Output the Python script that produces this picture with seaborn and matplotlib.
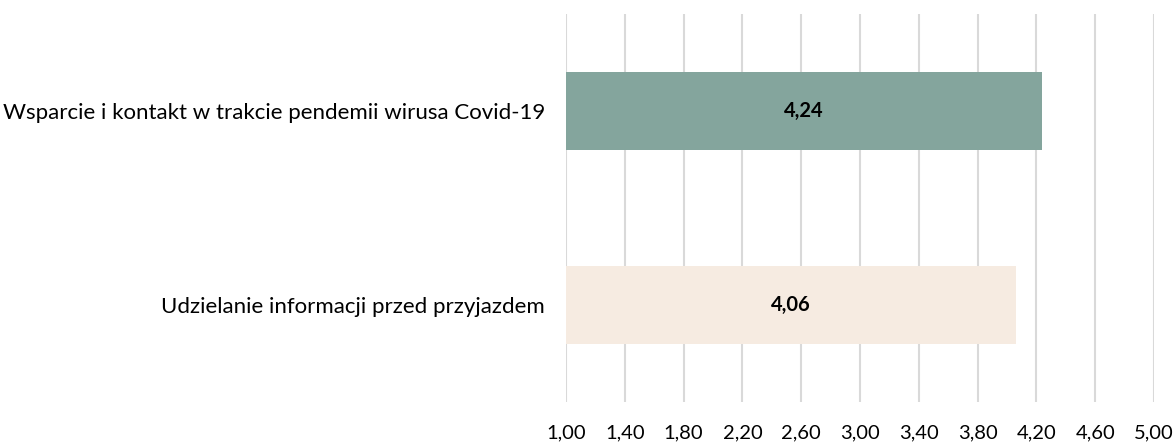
import matplotlib
matplotlib.use("Agg")
import matplotlib.pyplot as plt
import seaborn as sns
import pandas as pd
from matplotlib.ticker import FuncFormatter, FixedLocator

categories = ["Wsparcie i kontakt w trakcie pendemii wirusa Covid-19",
              "Udzielanie informacji przed przyjazdem"]
values = [4.24, 4.06]
colors = ["#84A59D", "#F6EBE1"]
tick_values = [1.00, 1.40, 1.80, 2.20, 2.60, 3.00, 3.40, 3.80, 4.20, 4.60, 5.00]

sns.set_theme(style="white")
plt.rcParams['font.family'] = ['Lato', 'DejaVu Sans']

df = pd.DataFrame({"cat": categories, "val": values})

fig = plt.figure(figsize=(11.74, 4.42), dpi=100)
ax = fig.add_axes([566/1174, 1 - 402/442, (1154 - 566)/1174, (402 - 14)/442])

sns.barplot(data=df, x="val", y="cat", hue="cat", palette=colors, orient="h",
            width=0.4, saturation=1, legend=False, ax=ax, zorder=3)
for p in ax.patches:
    w = p.get_width()
    p.set_x(1.0)
    p.set_width(w - 1.0)
    p.set_edgecolor("none")

ax.set_xlim(1.0, 5.0)
ax.set_ylim(1.5, -0.5)
ax.xaxis.set_major_locator(FixedLocator(tick_values))
ax.xaxis.set_major_formatter(FuncFormatter(lambda v, _: f"{v:.2f}".replace(".", ",")))
ax.grid(axis="x", color="#D9D9D9", linewidth=1.5, zorder=0)
ax.set_axisbelow(True)
for s in ax.spines.values():
    s.set_visible(False)
ax.set_xlabel("")
ax.set_ylabel("")
ax.tick_params(axis="x", length=0, pad=16, labelsize=14.5, colors="#000000")
ax.tick_params(axis="y", length=0, pad=15, labelsize=16, colors="#000000")

for i, v in enumerate(values):
    ax.text((1.0 + v) / 2, i, f"{v:.2f}".replace(".", ","), ha="center", va="center",
            fontsize=14.5, fontweight="bold", color="#000000", zorder=5)

fig.savefig("out.png", dpi=100)
